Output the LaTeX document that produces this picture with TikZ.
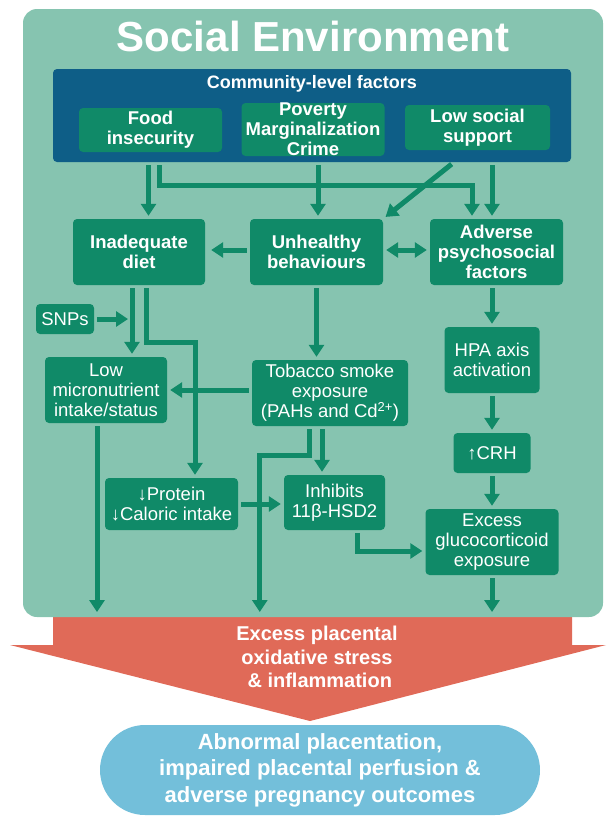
\documentclass[tikz,border=0pt]{standalone}
\usepackage{fontspec}
\setmainfont{Liberation Sans}
\usetikzlibrary{arrows.meta}

\definecolor{envgreen}{RGB}{134,196,176}
\definecolor{boxgreen}{RGB}{16,138,104}
\definecolor{commblue}{RGB}{14,94,135}
\definecolor{stressred}{RGB}{224,106,88}
\definecolor{outblue}{RGB}{115,191,218}

\begin{document}
\begin{tikzpicture}[x=1pt,y=1pt,yscale=-1,
  gbox/.style={fill=boxgreen, text=white, rounded corners=4pt, inner sep=0pt, align=center, font=\fontsize{18.5}{20}\selectfont},
  gboxb/.style={gbox, font=\fontsize{18.5}{20}\bfseries\selectfont},
  flow/.style={draw=boxgreen, line width=5pt, shorten <=3pt, shorten >=3pt, -{Triangle[width=15pt,length=12pt]}},
  flowboth/.style={flow, {Triangle[width=15pt,length=12pt]}-{Triangle[width=15pt,length=12pt]}}]
\useasboundingbox (0,0) rectangle (612,820);

%Shape: Arrow [id:red_stress]
\fill[stressred] (53,610) -- (572,610) -- (572,645) -- (606,645) -- (310,721) -- (10,645) -- (53,645) -- cycle ;
%Shape: Rounded Rect [id:env]
\fill[envgreen, rounded corners=14pt] (23,9) rectangle (603,617) ;
\coordinate (redtop) at (0,612);

% Text Node
\node (title) [text=white, font=\fontsize{42}{44}\bfseries\selectfont] at (313,36) {Social Environment};

%Shape: Rectangle [id:community]
\node (comm) [fill=commblue, rounded corners=4pt, minimum width=518, minimum height=93, inner sep=0pt] at (312,115.5) {};
% Text Node
\node (commlabel) [text=white, font=\fontsize{18}{20}\bfseries\selectfont] at (312,84) {Community-level factors};

% Top row
\node (food) [gboxb, minimum width=143, minimum height=44] at (150.5,130) {Food\\insecurity};
\node (poverty) [gboxb, minimum width=143, minimum height=53] at (313,129.5) {Poverty\\Marginalization\\Crime};
\node (support) [gboxb, minimum width=145, minimum height=45] at (477.5,127.5) {Low social\\support};

% Second row
\node (diet) [gboxb, minimum width=132, minimum height=66] at (139,252) {Inadequate\\diet};
\node (unhealthy) [gboxb, minimum width=133, minimum height=66] at (316.5,252) {Unhealthy\\behaviours};
\node (adverse) [gboxb, minimum width=133, minimum height=66] at (496.5,252) {Adverse\\psychosocial\\factors};

% Lower boxes
\node (snps) [gbox, minimum width=58, minimum height=30] at (65,319) {SNPs};
\node (micro) [gbox, minimum width=122, minimum height=66] at (106,390) {Low\\micronutrient\\intake/status};
\node (tobacco) [gbox, minimum width=156, minimum height=66] at (330,393) {Tobacco smoke\\exposure\\(PAHs and Cd\textsuperscript{2+})};
\node (hpa) [gbox, minimum width=95, minimum height=66] at (492,360) {HPA axis\\activation};
\node (crh) [gbox, minimum width=77, minimum height=40] at (492,453) {↑CRH};
\node (protein) [gbox, minimum width=133, minimum height=52] at (171.5,504) {↓Protein\\↓Caloric intake};
\node (inhibits) [gbox, minimum width=101, minimum height=55] at (334.5,502.5) {Inhibits\\11β-HSD2};
\node (excess) [gbox, minimum width=133, minimum height=66] at (492,542) {Excess\\glucocorticoid\\exposure};

% Text Node
\node (stress) [text=white, align=center, font=\fontsize{20}{23.5}\bfseries\selectfont] at (317,657) {Excess placental\\oxidative stress\\\ \& inflammation};
%Shape: Rounded Rect [id:outcome]
\node (outcome) [fill=outblue, rounded corners=45pt, minimum width=440, minimum height=90, inner sep=0pt, text=white, align=center, font=\fontsize{22}{26.5}\bfseries\selectfont] at (320,770) {Abnormal placentation,\\impaired placental perfusion \&\\adverse pregnancy outcomes};

%Straight Lines
\draw[flow] ([xshift=-2pt]food.south |- comm.south) -- ([xshift=-2pt]food.south |- diet.north);
\draw[flow] ([xshift=8.5pt]food.south |- comm.south) -- ++(0,23) -| ([xshift=-24.5pt]adverse.north);
\draw[flow] ([xshift=5pt]poverty.south |- comm.south) -- ([xshift=5pt]poverty.south |- unhealthy.north);
\draw[flow] ([xshift=-23.5pt]support.south |- comm.south) -- (unhealthy.north east);
\draw[flow] ([xshift=14.5pt]support.south |- comm.south) -- ([xshift=14.5pt]support.south |- adverse.north);
\draw[flow, shorten >=6pt] ([yshift=-2pt]unhealthy.west) -- ([yshift=-2pt]diet.east);
\draw[flowboth] ([yshift=-2pt]unhealthy.east) -- ([yshift=-2pt]adverse.west);
\draw[flow, shorten >=4pt] (snps.east) -- ([xshift=-7pt]diet.south |- snps.east);
\draw[flow] ([xshift=-7pt]diet.south) -- ([xshift=-7pt]diet.south |- micro.north);
\draw[flow] ([xshift=7pt]diet.south) -- ++(0,57) -| ([xshift=23.5pt]protein.north);
\draw[flow] (unhealthy.south) -- (unhealthy.south |- tobacco.north);
\draw[flow] (micro.east -| tobacco.west) -- (micro.east);
\draw[flow] ([xshift=-12.5pt]inhibits.north |- tobacco.south) -- ([xshift=-12.5pt]inhibits.north);
\draw[flow, shorten >=0pt] ([xshift=-21pt]tobacco.south) -- ++(0,29) -| ([xshift=8pt]tobacco.west |- redtop);
\draw[flow, shorten >=0pt] ([xshift=-9pt]micro.south) -- ([xshift=-9pt]micro.south |- redtop);
\draw[flow] (protein.east) -- (inhibits.west |- protein.east);
\draw[flow] ([xshift=22.5pt]inhibits.south) |- ([yshift=9pt]excess.west);
\draw[flow] (hpa.north |- adverse.south) -- (hpa.north);
\draw[flow] (hpa.south) -- (crh.north);
\draw[flow] (crh.south) -- (excess.north);
\draw[flow, shorten >=0pt] (excess.south) -- (excess.south |- redtop);
\end{tikzpicture}
\end{document}
